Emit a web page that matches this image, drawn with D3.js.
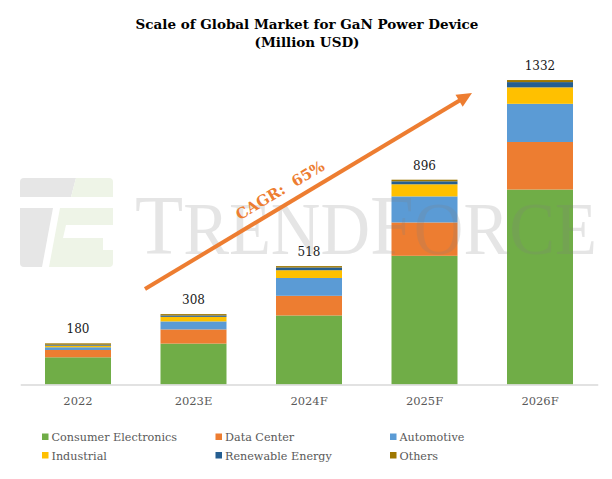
<!DOCTYPE html>
<html>
<head>
<meta charset="utf-8">
<script src="https://cdn.jsdelivr.net/npm/d3@7"></script>
<style>
  html, body { margin: 0; padding: 0; background: #fff; }
  svg { display: block; }
</style>
</head>
<body>
<svg id="chart" width="612" height="479"></svg>
<script>
// data
const YEARS = ['2022', '2023E', '2024F', '2025F', '2026F'];
const TOTALS = [180, 308, 518, 896, 1332];
const CONSUMER = [119, 179, 302, 563, 853];
const DATA_CENTER = [32, 62, 86, 146, 208];
const AUTOMOTIVE = [12, 35, 78, 114, 167];
const INDUSTRIAL = [7, 20, 34, 53, 72];
const RENEWABLE = [4, 6, 12, 13, 23];
const OTHERS = [6, 6, 6, 7, 9];
const SERIES = ['Consumer Electronics', 'Data Center', 'Automotive', 'Industrial', 'Renewable Energy', 'Others'];
const COLORS = ['#70AD47', '#ED7D31', '#5B9BD5', '#FFC000', '#255E91', '#9E7700'];

const SVG = d3.select('#chart');
const SERIF = '"DejaVu Serif", serif';

const rows = YEARS.map((y, i) => ({
  year: y,
  'Consumer Electronics': CONSUMER[i],
  'Data Center': DATA_CENTER[i],
  'Automotive': AUTOMOTIVE[i],
  'Industrial': INDUSTRIAL[i],
  'Renewable Energy': RENEWABLE[i],
  'Others': OTHERS[i]
}));

// scales
const X_SCALE = d3.scaleBand()
  .domain(YEARS)
  .range([20.25, 597.75])
  .paddingInner(0.4286)
  .paddingOuter(0.2143);
const Y_SCALE = d3.scaleLinear()
  .domain([0, 1400])
  .range([384.5, 64.5]);

// logo watermark (left)
const LOGO = SVG.append('g').attr('id', 'logo');
LOGO.append('path')
  .attr('d', 'M24,178 L76,178 L71,197 L20,197 L20,182 Q20,178 24,178 Z')
  .style('fill', '#e6e6e6');
LOGO.append('path')
  .attr('d', 'M76,178 L109,178 Q113,178 113,182 L113,197 L71,197 Z')
  .style('fill', '#eef4e7');
LOGO.append('path')
  .attr('d', 'M20,208 L53,208 L42,267 L24,267 Q20,267 20,263 Z')
  .style('fill', '#e6e6e6');
LOGO.append('path')
  .attr('d', 'M60,208 L113,208 L113,225 L66,225 L63,238 L103,238 L103,250 L113,250 L113,263 Q113,267 109,267 L49,267 Z')
  .style('fill', '#eef4e7');

// stacked bars
const STACK = d3.stack().keys(SERIES)(rows);
const BARS = SVG.append('g').attr('id', 'bars');
STACK.forEach((layer, li) => {
  BARS.append('g')
    .selectAll('rect')
    .data(layer)
    .join('rect')
    .attr('x', d => X_SCALE(d.data.year))
    .attr('width', X_SCALE.bandwidth())
    .attr('y', d => Y_SCALE(d[1]))
    .attr('height', d => Y_SCALE(d[0]) - Y_SCALE(d[1]))
    .style('fill', COLORS[li]);
});

// x axis
const X_AXIS = d3.axisBottom(X_SCALE).tickSize(0).tickPadding(12);
const X_AXIS_G = SVG.append('g')
  .attr('id', 'xAxis')
  .attr('transform', `translate(0,${Y_SCALE(0)})`);
X_AXIS(X_AXIS_G);
X_AXIS_G.select('.domain').style('stroke', '#d9d9d9').style('stroke-width', '1.5');
X_AXIS_G.selectAll('text')
  .style('font-family', SERIF)
  .style('font-size', '11.5px')
  .style('fill', '#595959');

// total labels
SVG.append('g')
  .selectAll('text')
  .data(YEARS)
  .join('text')
  .attr('x', d => X_SCALE(d) + X_SCALE.bandwidth() / 2)
  .attr('y', (d, i) => Y_SCALE(TOTALS[i]) - 10)
  .attr('text-anchor', 'middle')
  .style('font-family', SERIF)
  .style('font-size', '12px')
  .style('fill', '#1a1a1a')
  .text((d, i) => TOTALS[i]);

// TrendForce text watermark, over the bars
const WM = SVG.append('text')
  .attr('x', 135)
  .attr('y', 254)
  .style('font-family', '"Liberation Serif", serif')
  .style('fill', '#808080')
  .style('opacity', 0.2);
[['T', 85], ['REND', 74], ['F', 85], ['ORCE', 74]].forEach(p => {
  WM.append('tspan').style('font-size', p[1] + 'px').text(p[0]);
});
const wmLen = WM.node().getComputedTextLength();
WM.attr('transform', `translate(135,0) scale(${462 / wmLen},1) translate(-135,0)`);

// CAGR arrow
const x0 = X_SCALE('2022') + X_SCALE.bandwidth() / 2 + 0.58 * X_SCALE.step();
const y0 = Y_SCALE(418);
const x1 = X_SCALE('2026F') + X_SCALE.bandwidth() / 2 - 0.589 * X_SCALE.step();
const y1 = Y_SCALE(1275);
const ang = Math.atan2(y1 - y0, x1 - x0);
const len = Math.hypot(x1 - x0, y1 - y0);
const ARROW = SVG.append('g')
  .attr('transform', `translate(${x0},${y0}) rotate(${ang * 180 / Math.PI})`);
ARROW.append('line')
  .attr('x1', 0).attr('y1', 0)
  .attr('x2', len - 13).attr('y2', 0)
  .style('stroke', '#ED7D31')
  .style('stroke-width', 4);
ARROW.append('path')
  .attr('d', `M${len},0 L${len - 15},-7 L${len - 15},7 Z`)
  .style('fill', '#ED7D31');
ARROW.append('text')
  .attr('x', len * 0.437)
  .attr('y', -10)
  .attr('text-anchor', 'middle')
  .style('font-family', SERIF)
  .style('font-weight', 'bold')
  .style('font-size', '15px')
  .style('white-space', 'pre')
  .style('fill', '#ED7D31')
  .text('CAGR:  65%');

// title
const TITLE = SVG.append('text')
  .attr('text-anchor', 'middle')
  .style('font-family', SERIF)
  .style('font-weight', 'bold')
  .style('font-size', '13.5px')
  .style('fill', '#000');
TITLE.append('tspan').attr('x', 307).attr('y', 28.5).text('Scale of Global Market for GaN Power Device');
TITLE.append('tspan').attr('x', 307).attr('y', 47).text('(Million USD)');

// legend
const LEG_X = [42, 215.5, 390];
const LEG_Y = [437, 455.5];
const LEGEND = SVG.append('g').attr('id', 'legend');
SERIES.forEach((s, i) => {
  const lx = LEG_X[i % 3];
  const ly = LEG_Y[Math.floor(i / 3)];
  LEGEND.append('rect')
    .attr('x', lx)
    .attr('y', ly - 3.5)
    .attr('width', 6.5)
    .attr('height', 6.5)
    .style('fill', COLORS[i]);
  LEGEND.append('text')
    .attr('x', lx + 9.5)
    .attr('y', ly + 4)
    .style('font-family', SERIF)
    .style('font-size', '11.2px')
    .style('fill', '#595959')
    .text(s);
});
</script>
</body>
</html>
